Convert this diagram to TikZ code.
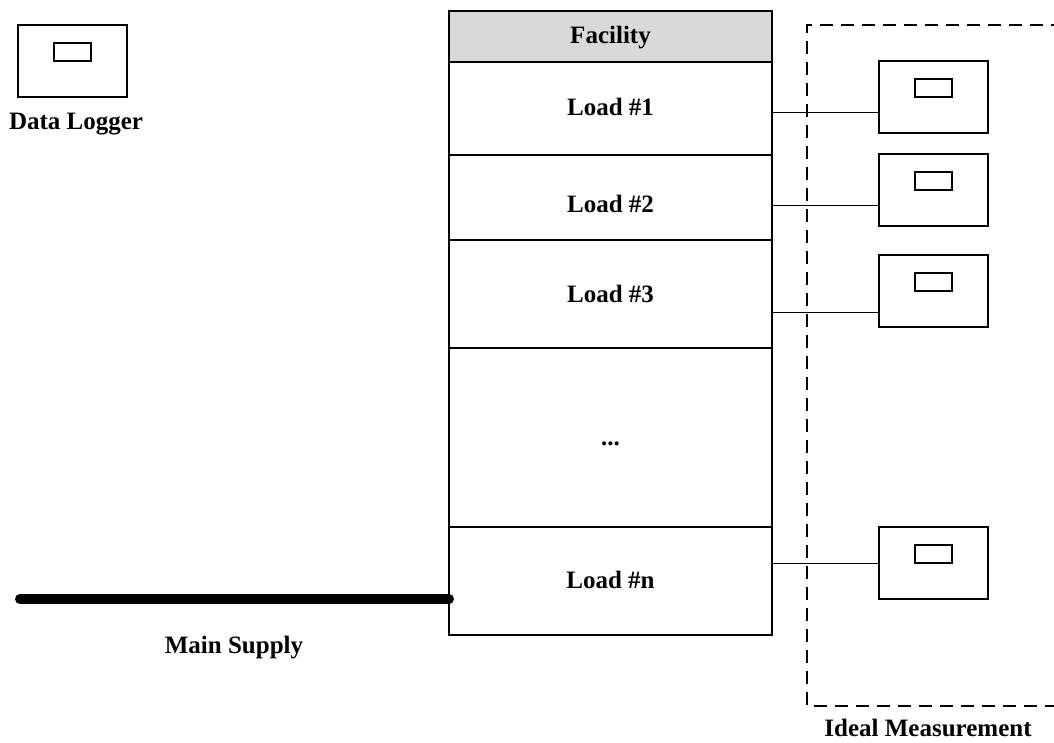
\documentclass[tikz,border=0pt]{standalone}
\usepackage{fontspec}
\setmainfont{Liberation Serif}
\definecolor{headgray}{HTML}{D9D9D9}
\tikzset{
  txt/.style={font=\bfseries\fontsize{25}{30}\selectfont, inner sep=0pt, anchor=base},
  cell/.style={draw, line width=1.5pt, minimum width=323pt, anchor=north west, inner sep=0pt, outer sep=0pt},
  logger/.style={draw, line width=1.5pt, minimum width=109pt, minimum height=72pt,
    anchor=north west, inner sep=0pt, outer sep=0pt,
    path picture={\draw[line width=1.5pt]
      ([xshift=-18.5pt,yshift=-18pt]path picture bounding box.north) rectangle ++(37pt,-18pt);}},
  wire/.style={line width=0.8pt},
  dashbox/.style={line width=1.6pt, dash pattern=on 13pt off 8pt, dash phase=10pt},
  supplyline/.style={line width=10pt, line cap=round}
}
\begin{document}
\begin{tikzpicture}[x=1pt,y=-1pt]
\useasboundingbox (0,0) rectangle (1054,742);
\clip (0,0) rectangle (1054,742);

% data logger legend
\node[logger] (dl) at (18,25) {};
\node[txt] (dltext) at (76,129) {Data Logger};

% facility column
\node[cell, fill=headgray, minimum height=51pt] (facility) at (449,11) {};
\node[cell, minimum height=93pt] (load1) at (449,62) {};
\node[cell, minimum height=85pt] (load2) at (449,155) {};
\node[cell, minimum height=108pt] (load3) at (449,240) {};
\node[cell, minimum height=179pt] (dots) at (449,348) {};
\node[cell, minimum height=108pt] (loadn) at (449,527) {};

\node[txt] (tfac) at (610.5,43) {Facility};
\node[txt] (t1) at (610.5,115) {Load \#1};
\node[txt] (t2) at (610.5,212) {Load \#2};
\node[txt] (t3) at (610.5,302) {Load \#3};
\node[txt] (tdots) at (610.5,445) {...};
\node[txt] (tn) at (610.5,588) {Load \#n};

% ideal measurement loggers
\node[logger] (m1) at (879,61) {};
\node[logger] (m2) at (879,154) {};
\node[logger] (m3) at (879,255) {};
\node[logger] (mn) at (879,527) {};

\coordinate (c1) at (879,112);
\coordinate (c2) at (879,205);
\coordinate (c3) at (879,312);
\coordinate (cn) at (879,563);
\draw[wire] (load1.east |- c1) -- (c1);
\draw[wire] (load2.east |- c2) -- (c2);
\draw[wire] (load3.east |- c3) -- (c3);
\draw[wire] (loadn.east |- cn) -- (cn);

% dashed measurement boundary
\coordinate (idealtl) at (807,25);
\coordinate (idealbl) at (807,706);
\draw[dashbox] (1054,25) -- (idealtl) -- (idealbl) -- (1054,706);
\node[txt] (idealtext) at (928,736) {Ideal Measurement};

% main supply
\coordinate (supply) at (20,599);
\draw[supplyline] (supply) -- (loadn.west |- supply);
\node[txt] (supplytext) at (234,653) {Main Supply};
\end{tikzpicture}
\end{document}
